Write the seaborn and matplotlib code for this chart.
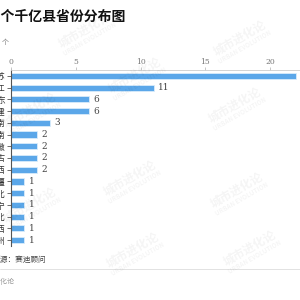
import matplotlib
matplotlib.use("Agg")
import matplotlib.pyplot as plt
import seaborn as sns
import pandas as pd

# 数据
provinces = ["江苏", "浙江", "山东", "福建", "湖南", "河南", "安徽", "内蒙古",
             "江西", "新疆", "湖北", "辽宁", "河北", "陕西", "贵州"]
counts = [22, 11, 6, 6, 3, 2, 2, 2, 2, 1, 1, 1, 1, 1, 1]
x_ticks = [0, 5, 10, 15, 20]

df = pd.DataFrame({"省份": provinces, "数量": counts})

sns.set_theme(style="white")
plt.rcParams['font.family'] = ['Noto Sans CJK SC', 'DejaVu Sans']

fig = plt.figure(figsize=(3, 3), dpi=100)
ax = fig.add_axes([11 / 300, 54 / 300, 289 / 300, 176 / 300])

sns.barplot(data=df, x="数量", y="省份", orient="h", color="#5ba7e9",
            width=0.52, edgecolor="#d9ecfb", linewidth=0.6, saturation=1, ax=ax)

ax.set_xlim(0, 22.3)
ax.set_ylim(14.5, -0.5)
ax.xaxis.tick_top()
ax.set_xticks(x_ticks)
ax.set_xlabel("")
ax.set_ylabel("")
ax.tick_params(axis="x", top=True, length=2, width=0.6, color="#bbbbbb",
               labelsize=5.5, labelcolor="#777777", pad=1)
ax.tick_params(axis="y", left=True, length=3, width=0.6, color="#555555",
               labelsize=6, labelcolor="#333333", pad=1)
for lab in ax.get_xticklabels():
    lab.set_family(["DejaVu Serif"])

for s in ["right", "bottom"]:
    ax.spines[s].set_visible(False)
ax.spines["top"].set_color("#cccccc")
ax.spines["top"].set_linewidth(0.6)
ax.spines["left"].set_color("#555555")
ax.spines["left"].set_linewidth(0.8)

# 数值标签
for i, v in enumerate(counts):
    ax.text(v + 0.35, i, str(v), va="center", ha="left", fontsize=6.5,
            color="#444444", family=["DejaVu Serif"], clip_on=False)

# 标题与注释
fig.text(126 / 300, 1 - 17 / 300, "62个千亿县省份分布图", ha="right", va="center",
         fontsize=10, fontweight="bold", color="#111111")
fig.text(10 / 300, 1 - 42 / 300, "单位：个", ha="right", va="center",
         fontsize=5, color="#777777")
fig.text(46 / 300, 1 - 260 / 300, "数据来源：赛迪顾问", ha="right", va="center",
         fontsize=5.5, color="#444444")
fig.add_artist(plt.Line2D([0, 1], [1 - 269 / 300] * 2, color="#dddddd", lw=0.6))
fig.text(15 / 300, 1 - 282 / 300, "城市进化论", ha="right", va="center",
         fontsize=5, color="#999999")

# 水印
marks = [(85, 30), (240, 38), (135, 75), (235, 105), (30, 110), (130, 178),
         (237, 190), (30, 205), (133, 250), (250, 248)]
for mx, my in marks:
    fig.text(mx / 300, 1 - my / 300, "城市进化论", ha="center", va="center",
             rotation=30, fontsize=8.5, fontweight="bold",
             color="#000000", alpha=0.045)
    fig.text((mx + 5) / 300, 1 - (my + 9) / 300, "URBAN EVOLUTION", ha="center",
             va="center", rotation=30, fontsize=4.5, fontweight="bold",
             color="#000000", alpha=0.045)

fig.savefig("out.png", dpi=100)
